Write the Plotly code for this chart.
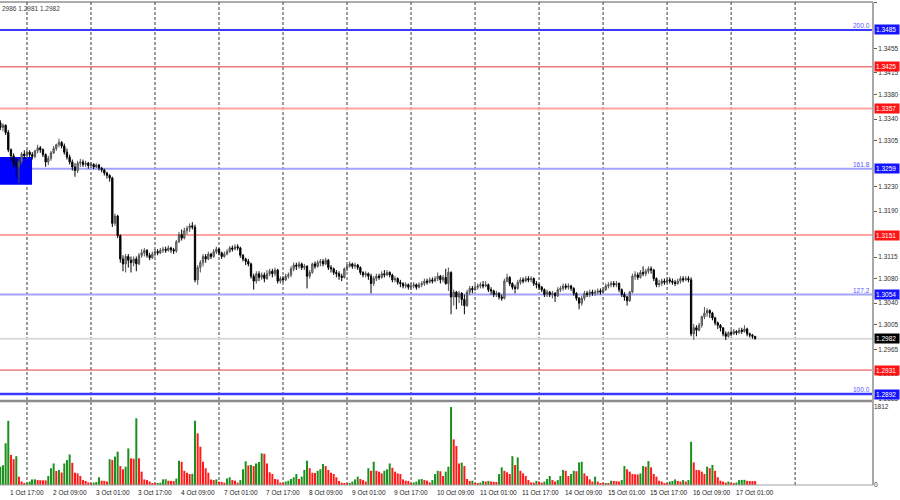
import plotly.graph_objects as go

# ---------------- data (prices in points: 13326 -> 1.3326) ----------------
FIRST_OPEN = 13334

closes = [
    13326, 13330, 13318, 13290, 13280, 13268, 13262, 13270, 13283, 13280,
    13286, 13282, 13279, 13288, 13293, 13290, 13282, 13270, 13276, 13285,
    13292, 13298, 13302, 13296, 13286, 13278, 13270, 13262, 13256, 13268,
    13270, 13266, 13268, 13264, 13266, 13262, 13265, 13260, 13257, 13252,
    13248, 13244, 13170, 13182, 13150, 13112, 13104, 13116, 13110, 13106,
    13112, 13104, 13118, 13122, 13126, 13118, 13114, 13120, 13124, 13122,
    13126, 13128, 13126, 13130, 13127, 13125, 13140, 13152, 13146, 13158,
    13162, 13166, 13164, 13078, 13098, 13106, 13116, 13112, 13120, 13116,
    13124, 13128, 13122, 13116, 13120, 13124, 13130, 13128, 13132, 13130,
    13118, 13112, 13108, 13104, 13084, 13076, 13088, 13082, 13086, 13080,
    13088, 13092, 13088, 13094, 13076, 13080, 13078, 13084, 13086, 13096,
    13102, 13100, 13104, 13098, 13100, 13084, 13090, 13104, 13100, 13106,
    13108, 13104, 13110, 13098, 13096, 13090, 13088, 13084, 13082, 13096,
    13100, 13104, 13100, 13102, 13098, 13090, 13086, 13088, 13084, 13072,
    13080, 13084, 13082, 13088, 13086, 13090, 13086, 13078, 13080, 13074,
    13072, 13068, 13070, 13066, 13068, 13070, 13066, 13070, 13072, 13076,
    13074, 13078, 13076, 13080, 13084, 13078, 13082, 13072, 13090, 13050,
    13058, 13050, 13056, 13046, 13036, 13058, 13064, 13062, 13066, 13068,
    13070, 13068, 13070, 13062, 13060, 13054, 13056, 13050, 13048, 13076,
    13082, 13072, 13066, 13064, 13074, 13078, 13076, 13080, 13078, 13080,
    13072, 13070, 13066, 13062, 13054, 13058, 13054, 13056, 13052, 13062,
    13064, 13068, 13066, 13068, 13064, 13056, 13048, 13040, 13048, 13056,
    13054, 13058, 13056, 13058, 13060, 13058, 13062, 13068, 13070, 13072,
    13070, 13072, 13062, 13054, 13050, 13044, 13058, 13084, 13086, 13082,
    13090, 13088, 13092, 13096, 13094, 13080, 13070, 13072, 13076, 13074,
    13078, 13076, 13074, 13072, 13076, 13080, 13078, 13080, 13078, 12990,
    13000, 12996, 13004, 13018, 13024, 13028, 13024, 13016, 13008, 13004,
    13000, 12990, 12986, 12992, 12990, 12994, 12992, 12996, 12994, 12998,
    12990, 12988, 12986, 12982,
]

highs = [
    13338, 13333, 13331, 13322, 13292, 13284, 13276, 13275, 13286, 13289,
    13290, 13289, 13286, 13290, 13298, 13296, 13292, 13284, 13280, 13288,
    13296, 13300, 13308, 13304, 13300, 13292, 13282, 13274, 13268, 13272,
    13275, 13274, 13272, 13270, 13270, 13268, 13268, 13267, 13262, 13259,
    13254, 13250, 13246, 13186, 13184, 13152, 13118, 13120, 13120, 13116,
    13116, 13116, 13122, 13128, 13130, 13128, 13122, 13124, 13128, 13128,
    13130, 13132, 13132, 13134, 13132, 13130, 13143, 13156, 13160, 13163,
    13166, 13170, 13172, 13168, 13102, 13110, 13120, 13120, 13124, 13122,
    13128, 13132, 13130, 13124, 13124, 13128, 13133, 13134, 13136, 13136,
    13132, 13120, 13114, 13112, 13106, 13088, 13092, 13092, 13090, 13090,
    13094, 13096, 13096, 13098, 13096, 13084, 13084, 13088, 13090, 13100,
    13106, 13106, 13108, 13106, 13104, 13102, 13094, 13106, 13108, 13110,
    13112, 13112, 13114, 13112, 13102, 13098, 13094, 13092, 13088, 13098,
    13104, 13108, 13106, 13106, 13104, 13100, 13092, 13092, 13090, 13088,
    13084, 13088, 13088, 13092, 13094, 13094, 13092, 13088, 13084, 13082,
    13078, 13074, 13074, 13072, 13072, 13074, 13072, 13074, 13076, 13080,
    13080, 13082, 13082, 13084, 13090, 13086, 13086, 13096, 13098, 13092,
    13062, 13060, 13060, 13058, 13054, 13062, 13068, 13068, 13070, 13072,
    13074, 13076, 13076, 13072, 13066, 13062, 13060, 13058, 13054, 13080,
    13088, 13084, 13074, 13070, 13078, 13082, 13082, 13084, 13084, 13084,
    13082, 13076, 13072, 13068, 13064, 13062, 13060, 13060, 13058, 13066,
    13068, 13072, 13072, 13072, 13070, 13066, 13058, 13050, 13052, 13060,
    13060, 13062, 13062, 13062, 13064, 13064, 13066, 13072, 13074, 13076,
    13076, 13076, 13074, 13064, 13058, 13052, 13060, 13088, 13092, 13090,
    13094, 13100, 13096, 13100, 13100, 13096, 13082, 13078, 13080, 13080,
    13082, 13082, 13080, 13078, 13080, 13084, 13084, 13084, 13084, 13082,
    13006, 13004, 13008, 13020, 13034, 13032, 13030, 13026, 13018, 13010,
    13006, 13000, 12994, 12994, 12996, 12998, 12996, 13000, 13000, 13004,
    13000, 12992, 12990, 12986,
]

lows = [
    13322, 13320, 13314, 13286, 13272, 13262, 13244, 13236, 13266, 13276,
    13276, 13278, 13274, 13276, 13284, 13285, 13278, 13262, 13265, 13272,
    13283, 13288, 13294, 13292, 13282, 13274, 13266, 13256, 13246, 13252,
    13262, 13262, 13262, 13259, 13260, 13258, 13260, 13256, 13253, 13248,
    13243, 13238, 13164, 13166, 13146, 13106, 13092, 13090, 13098, 13090,
    13100, 13092, 13102, 13114, 13116, 13114, 13110, 13112, 13116, 13118,
    13120, 13122, 13122, 13124, 13122, 13120, 13122, 13138, 13142, 13144,
    13152, 13156, 13160, 13074, 13070, 13090, 13100, 13106, 13110, 13112,
    13114, 13120, 13118, 13112, 13114, 13118, 13122, 13124, 13126, 13126,
    13114, 13108, 13102, 13100, 13080, 13062, 13072, 13076, 13078, 13074,
    13078, 13084, 13082, 13084, 13072, 13072, 13074, 13076, 13080, 13082,
    13092, 13094, 13096, 13094, 13094, 13064, 13080, 13088, 13096, 13098,
    13100, 13100, 13102, 13094, 13090, 13086, 13082, 13078, 13076, 13080,
    13092, 13098, 13096, 13096, 13094, 13086, 13082, 13082, 13078, 13056,
    13068, 13076, 13078, 13080, 13082, 13084, 13082, 13074, 13074, 13070,
    13066, 13064, 13064, 13062, 13062, 13064, 13062, 13064, 13066, 13068,
    13070, 13072, 13072, 13074, 13076, 13072, 13074, 13070, 13060, 13022,
    13036, 13030, 13040, 13036, 13022, 13034, 13054, 13056, 13060, 13062,
    13064, 13064, 13066, 13058, 13054, 13050, 13050, 13046, 13044, 13046,
    13074, 13068, 13062, 13056, 13062, 13070, 13072, 13074, 13074, 13074,
    13068, 13064, 13062, 13058, 13050, 13050, 13050, 13048, 13042, 13050,
    13058, 13060, 13062, 13062, 13060, 13052, 13044, 13030, 13036, 13044,
    13050, 13050, 13052, 13052, 13054, 13054, 13056, 13060, 13064, 13066,
    13066, 13066, 13058, 13050, 13044, 13036, 13042, 13056, 13078, 13078,
    13080, 13084, 13084, 13088, 13088, 13076, 13066, 13066, 13068, 13070,
    13072, 13072, 13070, 13068, 13070, 13072, 13074, 13076, 13074, 12986,
    12980, 12986, 12994, 13000, 13014, 13018, 13016, 13012, 13004, 12998,
    12994, 12986, 12980, 12984, 12986, 12988, 12988, 12990, 12990, 12992,
    12986, 12984, 12982, 12981,
]

volumes = [
    425, 460, 970, 1490, 700, 600, 670, 195, 80, 40,
    55, 80, 130, 132, 115, 112, 110, 108, 210, 390,
    500, 325, 350, 290, 500, 580, 710, 515, 285, 270,
    210, 115, 95, 60, 40, 55, 70, 180, 100, 95,
    80, 600, 580, 660, 775, 440, 365, 425, 850, 620,
    610, 1550, 620, 310, 130, 115, 80, 40, 25, 30,
    55, 130, 135, 100, 95, 92, 150, 565, 540, 330,
    285, 255, 260, 1490, 1200, 890, 540, 390, 285, 130,
    115, 130, 75, 70, 55, 150, 180, 115, 100, 55,
    115, 365, 550, 455, 465, 440, 500, 535, 735, 725,
    500, 295, 255, 140, 130, 55, 50, 80, 100, 140,
    180, 255, 140, 195, 350, 565, 390, 285, 280, 330,
    365, 490, 440, 350, 285, 255, 180, 95, 55, 40,
    35, 45, 80, 130, 195, 140, 115, 80, 390, 330,
    540, 330, 310, 270, 330, 365, 500, 400, 310, 270,
    255, 130, 100, 95, 40, 60, 80, 130, 140, 115,
    100, 60, 115, 255, 330, 320, 210, 310, 425,
    1812, 1060, 905, 500, 520, 440, 140, 95, 100, 40,
    25, 55, 95, 80, 95, 80, 75, 70, 255, 410,
    330, 295, 255, 670, 465, 640, 330, 270, 210, 115,
    60, 55, 95, 80, 55, 80, 140, 210, 115, 80,
    115, 210, 350, 330, 210, 255, 330, 320, 525, 540,
    270, 210, 130, 80, 195, 80, 40, 25, 40, 38,
    100, 95, 90, 80, 115, 440, 365, 310, 255, 250,
    245, 270, 440, 425, 555, 410, 255, 195, 100, 80,
    40, 38, 80, 95, 130, 95, 80, 115, 80, 115,
    1005, 525, 350, 345, 310, 255, 425, 390, 465, 330,
    180, 100, 80, 55, 80, 40, 25, 60, 115, 118,
    120, 95, 93, 92, 91,
]

FIRST_INDEX = -3  # bar 0 = 1 Oct 17:00 (H1 bars)

label_index = [0, 16, 32, 48, 64, 80, 96, 112, 128, 144, 160, 176, 192, 208, 224, 240, 256, 272]
label_text = ["1 Oct 17:00", "2 Oct 09:00", "3 Oct 01:00", "3 Oct 17:00", "4 Oct 09:00",
              "7 Oct 01:00", "7 Oct 17:00", "8 Oct 09:00", "9 Oct 01:00", "9 Oct 17:00",
              "10 Oct 09:00", "11 Oct 01:00", "11 Oct 17:00", "14 Oct 09:00", "15 Oct 01:00",
              "15 Oct 17:00", "16 Oct 09:00", "17 Oct 01:00"]
day_index = [7, 31, 55, 79, 103, 127, 151, 175, 199, 223, 247, 271, 295]

# price scale labels left visible by the level boxes
price_ticks = [1.3530, 1.3455, 1.3415, 1.3380, 1.3340, 1.3305, 1.3230,
               1.3190, 1.3115, 1.3080, 1.3040, 1.3005, 1.2965, 1.2925, 1.2885]
price_tick_text = ["%.4f" % v for v in price_ticks]

level_values = [1.3485, 1.3425, 1.3357, 1.3259, 1.3151, 1.3054, 1.2982, 1.2931, 1.2892]
level_fib = ["200.0", "", "", "161.8", "", "127.2", "", "", "100.0"]
level_line_colors = ["#3b3bff", "#e83b3b", "#ffa3a3", "#a3a3ff", "#ffa3a3", "#a3a3ff", "#dadada", "#e83b3b", "#3b3bff"]
level_line_widths = [2, 1, 2, 2, 2, 2, 2, 1, 2.5]
level_box_colors = ["#1414ff", "#ff1414", "#ff1414", "#1414ff", "#ff1414", "#1414ff", "#000000", "#ff1414", "#1414ff"]

zone_low, zone_high = 1.3233, 1.3278
zone_end_index = 8.9

vol_ticks = [0, 1812]
header_text = "2986 1.2981 1.2982"

# ---------------- derived ----------------
n = len(closes)
bar_index = list(range(FIRST_INDEX, FIRST_INDEX + n))
opens = [FIRST_OPEN] + closes[:-1]
o = [v / 10000 for v in opens]
c = [v / 10000 for v in closes]
h = [max(a, b, d) / 10000 for a, b, d in zip(highs, opens, closes)]
l = [min(a, b, d) / 10000 for a, b, d in zip(lows, opens, closes)]

GREEN, RED = "#1c901c", "#ff1a1a"
vol_colors = [GREEN] + [GREEN if volumes[k] > volumes[k - 1] else RED for k in range(1, len(volumes))]

FONT = "Liberation Sans, Arial, sans-serif"
XR = [-3.11, 324.2]

fig = go.Figure()
fig.add_trace(go.Candlestick(
    x=bar_index, open=o, high=h, low=l, close=c,
    increasing=dict(line=dict(color="#505050", width=1), fillcolor="#a0a0a0"),
    decreasing=dict(line=dict(color="#000000", width=1), fillcolor="#000000"),
    whiskerwidth=0, hoverinfo="skip", showlegend=False, xaxis="x", yaxis="y",
))
fig.add_trace(go.Bar(
    x=bar_index, y=volumes, marker=dict(color=vol_colors, line=dict(width=0)),
    width=0.75, hoverinfo="skip", showlegend=False, xaxis="x", yaxis="y2",
))

shapes = []
shapes.append(dict(type="rect", xref="x", yref="y", x0=XR[0], x1=zone_end_index,
                   y0=zone_low, y1=zone_high, fillcolor="#0000ff", line=dict(width=0), layer="below"))
for d in day_index:
    shapes.append(dict(type="line", xref="x", yref="paper", x0=d, x1=d, y0=0, y1=1,
                       line=dict(color="#3a3a3a", width=1, dash="3px,2px"), layer="below"))
for v, col, w in zip(level_values, level_line_colors, level_line_widths):
    shapes.append(dict(type="line", xref="paper", yref="y", x0=0, x1=1, y0=v, y1=v,
                       line=dict(color=col, width=w), layer="below"))
shapes.append(dict(type="line", xref="paper", yref="paper", x0=0, x1=1, y0=1, y1=1,
                   line=dict(color="#5a5a5a", width=1)))
shapes.append(dict(type="line", xref="paper", yref="paper", x0=0, x1=1, y0=0.1739, y1=0.1739,
                   line=dict(color="#8c8c8c", width=2.5)))
shapes.append(dict(type="line", xref="paper", yref="paper", x0=0, x1=1, y0=0, y1=0,
                   line=dict(color="#a0a0a0", width=1)))
shapes.append(dict(type="line", xref="paper", yref="paper", x0=1, x1=1, y0=0, y1=1,
                   line=dict(color="#a8a8a8", width=2)))

annotations = []
for v, fib, bc in zip(level_values, level_fib, level_box_colors):
    annotations.append(dict(xref="paper", yref="y", x=1, y=v, xanchor="left", yanchor="middle",
                            xshift=1, text="%.4f" % v, showarrow=False, bgcolor=bc,
                            font=dict(family=FONT, size=6.5, color="#ffffff"),
                            borderpad=1, width=22, align="left"))
    if fib:
        annotations.append(dict(xref="paper", yref="y", x=1, y=v, xanchor="right", yanchor="bottom",
                                xshift=-1, yshift=-1, text=fib, showarrow=False,
                                font=dict(family=FONT, size=6.5, color="#5555ff")))
for idx, txt in zip(label_index, label_text):
    annotations.append(dict(xref="x", yref="paper", x=idx, y=0, xanchor="left", yanchor="top",
                            yshift=-2, text=txt, showarrow=False,
                            font=dict(family=FONT, size=6.5, color="#202020")))
annotations.append(dict(xref="paper", yref="paper", x=0, y=1, xanchor="left", yanchor="top",
                        yshift=-1, text=header_text, showarrow=False,
                        font=dict(family=FONT, size=6.5, color="#404040")))

fig.update_layout(
    width=900, height=500,
    margin=dict(l=0, r=27, t=2, b=15),
    paper_bgcolor="#ffffff", plot_bgcolor="#ffffff",
    showlegend=False,
    xaxis=dict(domain=[0, 1], range=XR, anchor="y2", showgrid=False, zeroline=False,
               showticklabels=False, ticks="", showline=False, rangeslider=dict(visible=False)),
    yaxis=dict(domain=[0.17805, 1], range=[1.28839, 1.35306], side="right", anchor="x",
               showgrid=False, zeroline=False, tickvals=price_ticks, ticktext=price_tick_text,
               ticks="outside", ticklen=3, tickcolor="#606060",
               tickfont=dict(family=FONT, size=6.5, color="#303030")),
    yaxis2=dict(domain=[0, 0.16977], range=[0, 1905], side="right", anchor="x",
                showgrid=False, zeroline=False, tickvals=vol_ticks, ticktext=[str(v) for v in vol_ticks],
                ticks="", tickfont=dict(family=FONT, size=6.5, color="#303030")),
    shapes=shapes, annotations=annotations,
)

fig.write_html("out.html", config={"displayModeBar": False},
               post_script="document.body.style.margin='0';document.body.style.overflow='hidden';")
